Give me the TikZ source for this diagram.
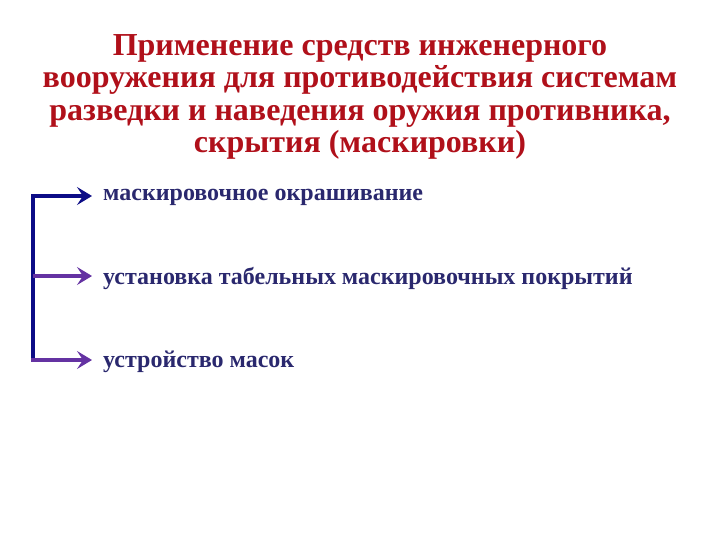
\documentclass[tikz,border=0pt]{standalone}
\usepackage{fontspec}
\setmainfont{Liberation Serif}
\usetikzlibrary{arrows.meta}
\definecolor{titlered}{HTML}{B0101A}
\definecolor{bodynavy}{HTML}{2A286E}
\definecolor{arrblue}{HTML}{0C0C86}
\definecolor{arrpurple}{HTML}{6432A2}
\tikzset{
  x=1pt,y=-1pt,
  title/.style={font=\bfseries\fontsize{32}{32.5}\selectfont, text=titlered, align=center, inner sep=0pt},
  item/.style={font=\bfseries\fontsize{24}{26}\selectfont, text=bodynavy, anchor=base west, inner sep=0pt},
  conn/.style={line width=4pt, -{Stealth[length=15pt,width=18pt,inset=6pt]}},
}
\begin{document}
\begin{tikzpicture}
\useasboundingbox (0,0) rectangle (720,540);
\node[title, anchor=north] (t) at (360,34) {Применение средств инженерного\\вооружения для противодействия системам\\разведки и наведения оружия противника,\\скрытия (маскировки)};
\node[item] (a) at (103,201) {маскировочное окрашивание};
\node[item] (b) at (103,284) {установка табельных маскировочных покрытий};
\node[item] (c) at (103,367) {устройство масок};
\coordinate (top) at (33,196);
\coordinate (mid) at (33,276);
\coordinate (bot) at (33,360);
\draw[line width=4pt, arrblue] (top) -- (bot);
\draw[conn, arrblue] ([xshift=-2pt]top) -- ([xshift=-11pt]a.west |- top);
\draw[conn, arrpurple] (mid) -- ([xshift=-11pt]b.west |- mid);
\draw[conn, arrpurple] ([xshift=-2pt]bot) -- ([xshift=-11pt]c.west |- bot);
\end{tikzpicture}
\end{document}
